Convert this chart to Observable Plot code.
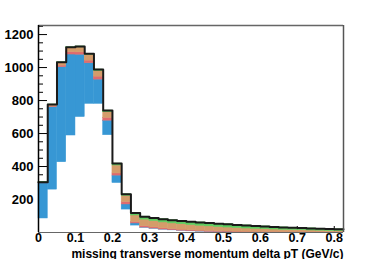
<!DOCTYPE html>
<html><head><meta charset="utf-8">
<script src="https://cdn.jsdelivr.net/npm/d3@7"></script>
<script src="https://cdn.jsdelivr.net/npm/@observablehq/plot@0.6"></script>
<style>body{margin:0;background:#fff;}</style>
</head><body><div id="chart"></div>
<script>
// bin lower edges (GeV/c), bin width 0.025
const binLow = [0,0.025,0.05,0.075,0.1,0.125,0.15,0.175,0.2,0.225,0.25,0.275,0.3,0.325,0.35,0.375,0.4,0.425,0.45,0.475,0.5,0.525,0.55,0.575,0.6,0.625,0.65,0.675,0.7,0.725,0.75,0.775,0.8];
const binWidth = 0.025;
// stacked components, bottom to top
const whiteBase = [85,260,426,588,700,780,780,590,300,139,42,28,22,17,13,10,7,5,3,2,1,0,0,0,0,0,0,0,0,0,0,0,0];
const blueVals  = [213,500,576,491,378,246,147,88,45,31,13,2,2,1,1,1,1,1,1,1,1,1,0,0,0,0,0,0,0,0,0,0,0];
const redVals   = [3,4,10,14,14,16,18,17,13,14,8,8,7,7,6,6,5,5,5,4,4,4,4,3,3,3,2,2,2,2,2,1,1];
const orangeVals= [3,10,16,26,30,35,33,34,48,38,40,40,38,36,35,33,32,30,28,26,24,22,20,19,17,15,14,13,12,10,9,8,7];
const greenVals = [1,2,4,4,6,6,10,10,12,10,15,18,19,20,20,20,20,20,20,20,20,19,19,18,17,16,15,14,13,13,12,12,11];

const xTicks = [0,0.1,0.2,0.3,0.4,0.5,0.6,0.7,0.8];
const xTickLabels = ["0","0.1","0.2","0.3","0.4","0.5","0.6","0.7","0.8"];
const yTicks = [200,400,600,800,1000,1200];
const yTickLabels = ["200","400","600","800","1000","1200"];
const yMinorTicks = [50,100,150,250,300,350,450,500,550,650,700,750,850,900,950,1050,1100,1150,1250];
const xTitle = "missing transverse momentum delta pT (GeV/c)";

const layers = [
  {vals: whiteBase, color: "#ffffff"},
  {vals: blueVals, color: "#3797d4"},
  {vals: redVals, color: "#df6b6e"},
  {vals: orangeVals, color: "#d49c6a"},
  {vals: greenVals, color: "#5fcb5f"}
];
const xMax = binLow[binLow.length-1] + binWidth;
const yMax = 1255;

const base = binLow.map(() => 0);
const layerRows = layers.map(L => {
  const rows = binLow.map((x, i) => {
    const r = {x1: x, x2: x + binWidth, y1: base[i], y2: base[i] + L.vals[i]};
    base[i] += L.vals[i];
    return r;
  }).filter(r => r.y2 > r.y1);
  return {rows, color: L.color};
});
const totals = base.slice();
const outline = binLow.map((x, i) => ({x, y: totals[i]}));
outline.push({x: xMax, y: totals[totals.length-1]});

const font = "'Liberation Sans', Arial, sans-serif";
const chart = Plot.plot({
  width: 382, height: 259,
  marginLeft: 38, marginRight: 39, marginTop: 25, marginBottom: 27,
  style: {fontFamily: font, fontWeight: "bold", fontSize: "13px", background: "#fff", color: "#000"},
  x: {domain: [0, xMax]},
  y: {domain: [0, yMax]},
  marks: [
    Plot.axisY({ticks: yMinorTicks, tickSize: -5, tickFormat: () => "", label: null, stroke: "#000"}),
    Plot.axisY({ticks: yTicks, tickSize: -9, tickFormat: () => "", label: null, stroke: "#000"}),
    Plot.axisX({ticks: xTicks, tickSize: -6, tickFormat: () => "", label: null, stroke: "#000"}),
    ...layerRows.map(L => Plot.rect(L.rows, {x1: "x1", x2: "x2", y1: "y1", y2: "y2", fill: L.color, stroke: L.color, strokeWidth: 0.5})),
    Plot.line(outline, {x: "x", y: "y", curve: "step-after", stroke: "#1a1a1a", strokeWidth: 2}),
    Plot.ruleY([yMax], {stroke: "#666", strokeWidth: 1.5}),
    Plot.ruleX([xMax], {stroke: "#555", strokeWidth: 1.5}),
    Plot.ruleY([0], {stroke: "#666", strokeWidth: 1}),
    Plot.ruleX([0], {stroke: "#000", strokeWidth: 1.5}),
    Plot.axisY({ticks: yTicks, tickSize: 0, tickPadding: 5, label: null, fontSize: 13, fontWeight: "bold",
      tickFormat: d => yTickLabels[yTicks.indexOf(d)]}),
    Plot.axisX({ticks: xTicks, tickSize: 0, tickPadding: 1, label: null, fontSize: 12.5, fontWeight: "bold",
      tickFormat: d => xTickLabels[xTicks.indexOf(d)]}),
    Plot.text([xTitle], {text: d => d, frameAnchor: "bottom-right", textAnchor: "end", lineAnchor: "bottom", dy: 25, fontSize: 12, fontWeight: "bold"})
  ]
});
document.getElementById("chart").appendChild(chart);
</script>
</body></html>
